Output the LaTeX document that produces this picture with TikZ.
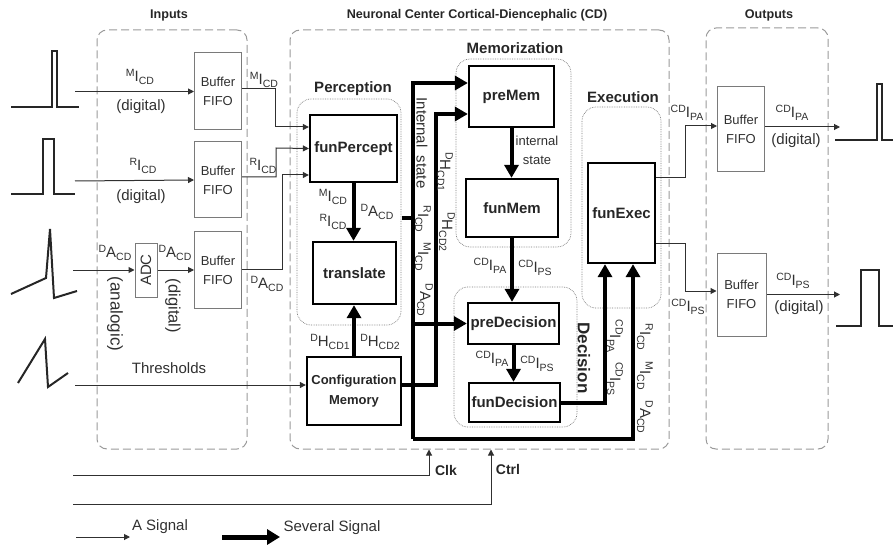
\documentclass[tikz,border=0pt]{standalone}
\usepackage{fontspec}
\setmainfont{Liberation Sans}
\usetikzlibrary{positioning, arrows.meta, calc}

\definecolor{inkgrey}{HTML}{303030}
\definecolor{zonegrey}{HTML}{9A9A9A}
\definecolor{boxgrey}{HTML}{7A7A7A}

% superscript, letter, subscript of a signal name
\newcommand{\signame}[3]{{\fontsize{10.5}{10.5}\selectfont\raisebox{5.5pt}{#1}}#2{\fontsize{10.5}{10.5}\selectfont\raisebox{-3pt}{#3}}}

\begin{document}
\begin{tikzpicture}[
    x=1pt, y=-1pt,
    % ── node styles ─────────────────────────────────────────
    zone/.style = { draw=zonegrey, dashed, dash pattern=on 8pt off 4pt, line width=1pt,
            rounded corners=10pt, inner sep=0pt, },
    groupbox/.style = { draw=boxgrey, densely dotted, line width=0.7pt,
            rounded corners=14pt, inner sep=0pt, },
    buffer/.style = { draw=boxgrey, line width=1pt, minimum width=47pt, inner sep=0pt,
            align=center, text=inkgrey, font=\fontsize{13}{19}\selectfont, },
    unit/.style = { draw=black, line width=2.3pt, inner sep=0pt, align=center,
            text=black!85, font=\bfseries\fontsize{15}{18}\selectfont, },
    lbl/.style = { inner sep=0pt, text=inkgrey, font=\fontsize{15}{18}\selectfont, },
    small/.style = { lbl, font=\fontsize{13}{19}\selectfont, align=center, },
    title/.style = { inner sep=0pt, text=black!85, font=\bfseries\fontsize{15}{18}\selectfont, },
    headline/.style = { title, font=\bfseries\fontsize{12.6}{14}\selectfont, },
    sig/.style = { -{Triangle[length=6pt,width=6pt]}, line width=1pt, draw=inkgrey, },
    wire/.style = { line width=1pt, draw=inkgrey, },
    bus/.style = { -{Triangle[length=13pt,width=14pt]}, line width=4pt, draw=black, },
    trunk/.style = { line width=4pt, draw=black, },
    wave/.style = { line width=2pt, draw=black!85, },
    ]

    \useasboundingbox (0,0) rectangle (893,545);

    % ============================================================
    % ZONES AND THEIR HEADINGS
    % ============================================================
    \node[zone, minimum width=150pt, minimum height=419pt] (inputsZone) at (172,239.5) {};
    \node[zone, minimum width=379pt, minimum height=419pt] (cdZone) at (479.5,239.5) {};
    \node[zone, minimum width=122pt, minimum height=421pt] (outputsZone) at (767,238.5) {};

    \node[headline] (inputsTitle) at (169,15) {Inputs};
    \node[headline] (cdTitle) at (477,15) {Neuronal Center Cortical-Diencephalic (CD)};
    \node[headline] (outputsTitle) at (769,15) {Outputs};

    % ============================================================
    % DOTTED GROUPS
    % ============================================================
    \node[groupbox, minimum width=104pt, minimum height=226pt] (perceptionGroup) at (349,212) {};
    \node[groupbox, minimum width=115pt, minimum height=188pt] (memGroup) at (513.5,153) {};
    \node[groupbox, minimum width=123pt, minimum height=140pt] (decisionGroup) at (515.5,357) {};
    \node[groupbox, minimum width=79pt, minimum height=201pt] (execGroup) at (621.5,207.5) {};

    \node[title] (perceptionTitle) at (353,89) {Perception};
    \node[title] (memTitle) at (515,48) {Memorization};
    \node[title] (execTitle) at (623,97) {Execution};
    \node[title, rotate=-90, font=\bfseries\fontsize{17}{18}\selectfont] (decisionTitle) at (584,358) {Decision};

    % ============================================================
    % BUFFERS
    % ============================================================
    \node[buffer, minimum height=77pt] (bufM) at (218,91.5) {Buffer\\FIFO};
    \node[buffer, minimum height=76pt] (bufR) at (218,180) {Buffer\\FIFO};
    \node[buffer, minimum height=76pt] (bufD) at (218,270) {Buffer\\FIFO};
    \node[buffer, minimum height=85pt] (bufPA) at (741,129.5) {Buffer\\FIFO};
    \node[buffer, minimum height=83pt, minimum width=49pt] (bufPS) at (741.5,294.5) {Buffer\\FIFO};
    \node[draw=boxgrey, line width=1pt, minimum width=22pt, minimum height=54pt, inner sep=0pt,
        text=inkgrey, font=\fontsize{15}{18}\selectfont] (adc) at (146,270)
    {\rotatebox{90}{ADC}};

    % ============================================================
    % FUNCTIONAL UNITS
    % ============================================================
    \node[unit, minimum width=87pt, minimum height=67pt] (funPercept) at (353.5,148.5) {funPercept};
    \node[unit, minimum width=83pt, minimum height=62pt] (translate) at (354.5,273) {translate};
    \node[unit, minimum width=94pt, minimum height=68pt, font=\bfseries\fontsize{13}{20}\selectfont]
    (config) at (354,391) {Configuration\\Memory};
    \node[unit, minimum width=85pt, minimum height=61pt] (preMem) at (511.5,96.5) {preMem};
    \node[unit, minimum width=92pt, minimum height=58pt] (funMem) at (512,208) {funMem};
    \node[unit, minimum width=91pt, minimum height=41pt] (preDecision) at (513.5,323.5) {preDecision};
    \node[unit, minimum width=91pt, minimum height=39pt] (funDecision) at (514.5,402.5) {funDecision};
    \node[unit, minimum width=67pt, minimum height=100pt] (funExec) at (621.5,213) {funExec};

    % ============================================================
    % FREE ENDS AND BENDS
    % ============================================================
    \coordinate (inM) at (75,91.5);
    \coordinate (inR) at (75,181);
    \coordinate (inD) at (73,270);
    \coordinate (inThr) at (75,385);
    \coordinate (inClk) at (73,475);
    \coordinate (inCtrl) at (73,504);
    \coordinate (bendM) at (275,127);
    \coordinate (bendR) at (276,148);
    \coordinate (bendD) at (282,175);
    \coordinate (bendPA) at (685,126);
    \coordinate (bendPS) at (685,291);
    \coordinate (outPA) at (840,127);
    \coordinate (outPS) at (840,294.5);
    \coordinate (perceptOut) at (402,218);
    \coordinate (trunkMid) at (413,218);
    \coordinate (trunkTop) at (413,83);
    \coordinate (trunkBot) at (413,439);
    \coordinate (configUp) at (436,114);
    \coordinate (legThinA) at (76,537);
    \coordinate (legThinB) at (130,537);
    \coordinate (legBusA) at (222,537);
    \coordinate (legBusB) at (280,537);

    % ============================================================
    % THIN SIGNALS
    % ============================================================
    \draw[sig] (inM) -- (bufM.west);
    \draw[sig] (inR) -- (bufR.west);
    \draw[sig] (inD) -- (adc.west);
    \draw[sig] (adc.east) -- (bufD.west);
    \draw[sig] (inThr) -- ($(config.west)+(0,-6)$);

    \draw[sig] ($(bufM.east)+(0,-3)$) -| (bendM) -- ($(funPercept.west)+(0,-21.5)$);
    \draw[sig] ($(bufR.east)+(0,-3)$) -| (bendR) -- (funPercept.west);
    \draw[sig] ($(bufD.east)+(0,-1)$) -| (bendD) -- ($(funPercept.west)+(0,26.5)$);

    \draw[sig] ($(funExec.east)+(0,-35)$) -| (bendPA) -- ($(bufPA.west)+(0,-3.5)$);
    \draw[sig] ($(funExec.east)+(0,30)$) -| (bendPS) -- ($(bufPS.west)+(0,-3.5)$);
    \draw[sig] ($(bufPA.east)+(0,-2.5)$) -- (outPA);
    \draw[sig] (bufPS.east) -- (outPS);

    \draw[sig] (inClk) -| ($(cdZone.south)+(-50.5,0)$);
    \draw[sig] (inCtrl) -| ($(cdZone.south)+(11.5,0)$);

    % ============================================================
    % THICK SIGNALS
    % ============================================================
    \draw[bus] (funPercept.south) -- (funPercept.south |- translate.north);
    \draw[bus] (config.north) -- (config.north |- translate.south);
    \draw[bus] (preMem.south) -- (preMem.south |- funMem.north);
    \draw[bus] (funMem.south) -- (funMem.south |- preDecision.north);
    \draw[bus] (preDecision.south) -- (preDecision.south |- funDecision.north);

    \draw[trunk] (perceptOut) -- (trunkMid);
    \draw[bus] (trunkBot) -- (trunkTop) -- ($(preMem.west)+(0,-13.5)$);
    \draw[bus] ($(config.east)+(0,-6)$) -| (configUp) -- ($(preMem.west)+(0,17.5)$);
    \draw[bus] (trunkMid |- preDecision.west) -- (preDecision.west);
    \draw[bus] (trunkBot) -| ($(funExec.south)+(11.5,0)$);
    \draw[bus] (funDecision.east) -| ($(funExec.south)+(-16.5,0)$);

    % ============================================================
    % LABELS
    % ============================================================
    \node[lbl] (lblMa) at (140,77) {\signame{M}{I}{CD}};
    \node[lbl] (lblDigA) at (141,107) {(digital)};
    \node[lbl] (lblRa) at (143,166) {\signame{R}{I}{CD}};
    \node[lbl] (lblDigB) at (141,197) {(digital)};
    \node[lbl] (lblDa) at (115,253) {\signame{D}{A}{CD}};
    \node[lbl] (lblDb) at (175,253) {\signame{D}{A}{CD}};
    \node[lbl, rotate=-90, font=\fontsize{17}{18}\selectfont] (lblAna) at (115,314) {(analogic)};
    \node[lbl, rotate=-90, font=\fontsize{16.5}{18}\selectfont] (lblDigC) at (173,306) {(digital)};
    \node[lbl] (lblThr) at (169,368) {Thresholds};

    \node[lbl] (lblMb) at (264,80) {\signame{M}{I}{CD}};
    \node[lbl] (lblRb) at (263,166) {\signame{R}{I}{CD}};
    \node[lbl] (lblDc) at (267,284) {\signame{D}{A}{CD}};

    \node[lbl] (lblMc) at (333,197) {\signame{M}{I}{CD}};
    \node[lbl] (lblRc) at (333,222) {\signame{R}{I}{CD}};
    \node[lbl] (lblDd) at (377,212) {\signame{D}{A}{CD}};
    \node[lbl] (lblHa) at (330,342) {\signame{D}{H}{CD1}};
    \node[lbl] (lblHb) at (380,342) {\signame{D}{H}{CD2}};

    \node[lbl, rotate=-90] (lblState) at (422,143) {Internal\ \ state};
    \node[lbl, rotate=-90] (lblHc) at (445,172) {\signame{D}{H}{CD1}};
    \node[lbl, rotate=-90] (lblHd) at (447,232) {\signame{D}{H}{CD2}};
    \node[lbl, rotate=-90] (lblRd) at (423,219) {\signame{R}{I}{CD}};
    \node[lbl, rotate=-90] (lblMd) at (423,257) {\signame{M}{I}{CD}};
    \node[lbl, rotate=-90] (lblDe) at (425,300) {\signame{D}{A}{CD}};

    \node[small] (lblInner) at (537,150) {internal\\state};
    \node[lbl] (lblPAa) at (490,266) {\signame{CD}{I}{PA}};
    \node[lbl] (lblPSa) at (535,268) {\signame{CD}{I}{PS}};
    \node[lbl] (lblPAb) at (492,359) {\signame{CD}{I}{PA}};
    \node[lbl] (lblPSb) at (537,364) {\signame{CD}{I}{PS}};

    \node[lbl, rotate=-90] (lblPAc) at (615,336) {\signame{CD}{I}{PA}};
    \node[lbl, rotate=-90] (lblPSc) at (615,379) {\signame{CD}{I}{PS}};
    \node[lbl, rotate=-90] (lblRe) at (645,337) {\signame{R}{I}{CD}};
    \node[lbl, rotate=-90] (lblMe) at (645,376) {\signame{M}{I}{CD}};
    \node[lbl, rotate=-90] (lblDf) at (645,417) {\signame{D}{A}{CD}};

    \node[lbl] (lblPAd) at (687,113) {\signame{CD}{I}{PA}};
    \node[lbl] (lblPSd) at (688,307) {\signame{CD}{I}{PS}};
    \node[lbl] (lblPAe) at (792,113) {\signame{CD}{I}{PA}};
    \node[lbl] (lblDigD) at (796,141) {(digital)};
    \node[lbl] (lblPSe) at (793,281) {\signame{CD}{I}{PS}};
    \node[lbl] (lblDigE) at (799,308) {(digital)};

    \node[title, font=\bfseries\fontsize{14}{18}\selectfont] (lblClk) at (446,470) {Clk};
    \node[title, font=\bfseries\fontsize{14}{18}\selectfont] (lblCtrl) at (508,469) {Ctrl};

    % ============================================================
    % WAVEFORMS
    % ============================================================
    \draw[wave] (11,107) -- (52,107) -- (52,51) -- (57,51) -- (57,107) -- (79,107);
    \draw[wave] (11,194) -- (43,194) -- (43,139) -- (54,139) -- (54,194) -- (75,194);
    \draw[wave] (11,294) -- (46,278) -- (50,229) -- (54,298) -- (77,291);
    \draw[wave] (18,383) -- (45,339) -- (48,387) -- (68,373);
    \draw[wave] (835,140) -- (877,140) -- (877,84) -- (882,84) -- (882,140) -- (893,140);
    \draw[wave] (836,326) -- (861,326) -- (861,270) -- (879,270) -- (879,326) -- (893,326);

    % ============================================================
    % LEGEND
    % ============================================================
    \draw[sig] (legThinA) -- (legThinB);
    \node[lbl] (lblThin) at (160,527) {A Signal};
    \draw[-{Triangle[length=13pt,width=15pt]}, line width=5pt, draw=black] (legBusA) -- (legBusB);
    \node[lbl] (lblThick) at (332,528) {Several Signal};

\end{tikzpicture}
\end{document}
